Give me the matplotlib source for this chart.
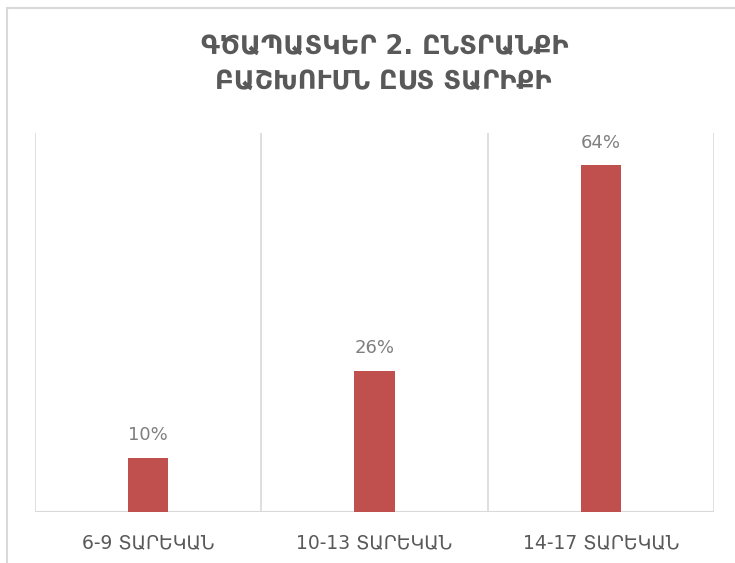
import matplotlib
matplotlib.use("Agg")
import matplotlib.pyplot as plt
from matplotlib.patches import Rectangle

categories = ["6-9 ՏԱՐԵԿԱՆ", "10-13 ՏԱՐԵԿԱՆ", "14-17 ՏԱՐԵԿԱՆ"]
values = [0.10, 0.26, 0.64]
value_labels = ["10%", "26%", "64%"]
title_lines = ["ԳԾԱՊԱՏԿԵՐ 2. ԸՆՏՐԱՆՔԻ", "ԲԱՇԽՈՒՄՆ ԸՍՏ ՏԱՐԻՔԻ"]

plt.rcParams['font.family'] = ['DejaVu Sans']

W, H = 735, 563
fig = plt.figure(figsize=(W / 100, H / 100), dpi=100)
fig.patch.set_facecolor("white")

# outer chart border (only left/top visible in the crop)
fig.patches.append(Rectangle((7 / W, -0.1), 1.2, 1 - 8 / H + 0.1, transform=fig.transFigure,
                             fill=False, edgecolor="#D9D9D9", linewidth=1.5))

ax = fig.add_axes([35 / W, (H - 512) / H, (714 - 35) / W, (512 - 133) / H])
x = list(range(len(categories)))
ax.bar(x, values, width=0.177, color="#C0504D", zorder=3)
ax.set_xlim(-0.5, len(categories) - 0.5)
ax.set_ylim(0, 0.70)

# vertical category gridlines
for b in [-0.5, 0.5, 1.5, 2.5]:
    ax.axvline(b, color="#D9D9D9", linewidth=1.2, zorder=1)

for s in ax.spines.values():
    s.set_visible(False)
ax.axhline(0, color="#D9D9D9", linewidth=1.5, zorder=2)
ax.set_yticks([])
ax.set_xticks(x)
ax.set_xticklabels(categories, fontsize=13.5, color="#595959")
ax.tick_params(axis="x", length=0, pad=15)

for xi, v, lab in zip(x, values, value_labels):
    ax.annotate(lab, (xi, v), xytext=(0, 10), textcoords="offset points",
                ha="center", va="bottom", fontsize=13, color="#7F7F7F")

fig.text(385 / W, 1 - 47 / H, title_lines[0], ha="center", va="center",
         fontsize=18.5, fontweight="bold", color="#595959")
fig.text(383 / W, 1 - 82 / H, title_lines[1], ha="center", va="center",
         fontsize=18.5, fontweight="bold", color="#595959")

fig.savefig("out.png", dpi=100, facecolor="white")
